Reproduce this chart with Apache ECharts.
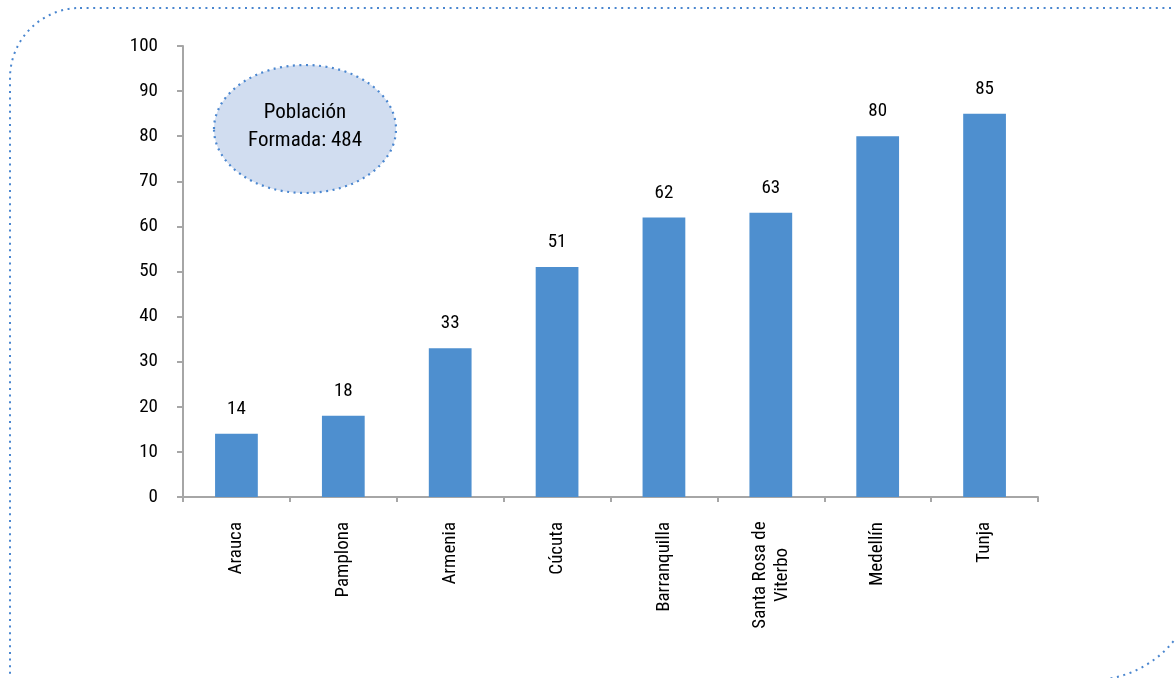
<!DOCTYPE html>
<html>
<head>
<meta charset="utf-8">
<script src="https://cdn.jsdelivr.net/npm/echarts@6/dist/echarts.min.js"></script>
<style>
  html, body { margin: 0; padding: 0; background: #fff; }
  #chart { width: 1175px; height: 678px; }
</style>
</head>
<body>
<div id="chart"></div>
<script>
// Trained population by city
const cities = ['Arauca', 'Pamplona', 'Armenia', 'Cúcuta', 'Barranquilla', 'Santa Rosa de\nViterbo', 'Medellín', 'Tunja'];
const trained = [14, 18, 33, 51, 62, 63, 80, 85];
const yTicks = [0, 10, 20, 30, 40, 50, 60, 70, 80, 90, 100];
const totalLabel = 'Población\nFormada: 484';

const FONT = '"Roboto Condensed", "DejaVu Sans Condensed", sans-serif';
const BLUE = '#4E8FCF';
const DOT = '#4A86CF';
const AXIS = '#A6A6A6';

const chart = echarts.init(document.getElementById('chart'), null, { renderer: 'canvas' });

chart.setOption({
  backgroundColor: '#ffffff',
  animation: false,
  grid: { left: 183, top: 46, right: 137, bottom: 181, containLabel: false },
  xAxis: {
    type: 'category',
    data: cities,
    axisLine: { lineStyle: { color: AXIS, width: 2 } },
    axisTick: { show: true, length: 5, alignWithLabel: false, lineStyle: { color: AXIS, width: 2 } },
    axisLabel: {
      rotate: 90,
      margin: 25,
      interval: 0,
      color: '#000',
      fontFamily: FONT,
      fontSize: 19,
      lineHeight: 22,
      // multi-line names keep each line centred on the other
      formatter: function (v) {
        if (v.indexOf('\n') >= 0) {
          return v.split('\n').map(function (s) { return '{c|' + s + '}'; }).join('\n');
        }
        return v;
      },
      rich: {
        c: { width: 106, align: 'center', fontFamily: FONT, fontSize: 19, lineHeight: 22, color: '#000' }
      }
    }
  },
  yAxis: {
    type: 'value',
    min: yTicks[0],
    max: yTicks[yTicks.length - 1],
    interval: yTicks[1] - yTicks[0],
    splitLine: { show: false },
    axisLine: { show: true, lineStyle: { color: AXIS, width: 2 } },
    axisTick: { show: true, length: 6, lineStyle: { color: AXIS, width: 2 } },
    axisLabel: { margin: 25, color: '#000', fontFamily: FONT, fontSize: 19 }
  },
  series: [{
    type: 'bar',
    data: trained,
    barWidth: '40%',
    itemStyle: { color: BLUE },
    label: {
      show: true,
      position: 'top',
      distance: 15,
      color: '#000',
      fontFamily: FONT,
      fontSize: 19
    }
  }],
  graphic: [
    {
      // dotted frame with rounded top-left and bottom-right corners
      type: 'rect',
      silent: true,
      shape: { x: 10, y: 8, width: 1187, height: 672, r: [70, 0, 105, 0] },
      style: { fill: 'none', stroke: DOT, lineWidth: 2, lineDash: [2, 4.6] }
    },
    {
      type: 'ellipse',
      silent: true,
      shape: { cx: 305, cy: 129, rx: 91, ry: 64 },
      style: { fill: '#D1DDF0', stroke: DOT, lineWidth: 2.2, lineDash: [2, 4.5] }
    },
    {
      type: 'text',
      silent: true,
      x: 305,
      y: 127,
      style: {
        text: totalLabel,
        fill: '#000',
        font: '21px ' + FONT,
        textAlign: 'center',
        textVerticalAlign: 'middle',
        lineHeight: 28
      }
    }
  ]
});
</script>
</body>
</html>
